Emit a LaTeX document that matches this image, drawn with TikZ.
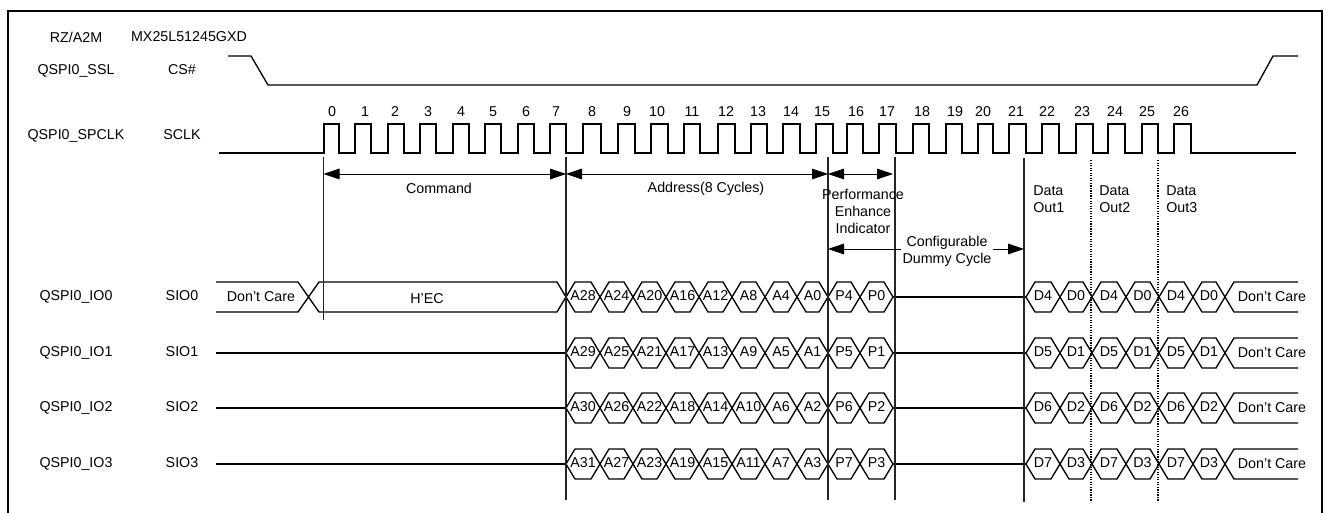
\documentclass[tikz,border=0pt]{standalone}
\usepackage{fontspec}
\setmainfont{Liberation Sans}
\usetikzlibrary{arrows.meta}

\newcommand{\hexcell}[5]{%
    \draw[wave] (#2,#4) -- (#2+9,#4-15) -- (#3-9,#4-15) -- (#3,#4) -- (#3-9,#4+15) -- (#2+9,#4+15) -- cycle;
    \node[lbl] (#1) at ({(#2+#3)/2},#4-1) {#5};
}

\begin{document}
\begin{tikzpicture}[x=0.75pt,y=-0.75pt,
    lbl/.style={font=\fontsize{10.7}{12.8}\selectfont,inner sep=0pt,align=center,text depth=0pt},
    txt/.style={font=\fontsize{10.7}{12.8}\selectfont,inner sep=0pt,align=left,anchor=west},
    wave/.style={line width=1pt,line join=miter},
    tick/.style={line width=0.8pt,black!85},
    dots/.style={line width=0.9pt,densely dotted},
    span/.style={line width=0.6pt,{Triangle[length=12pt,width=8pt]}-{Triangle[length=12pt,width=8pt]}},
    lead/.style={line width=0.6pt,-{Triangle[length=12pt,width=8pt]}}]
    \useasboundingbox (0,0) rectangle (1328,513);

    \draw[line width=1.5pt] (7.5,513) -- (7.5,11.5) -- (1322,11.5) -- (1322,513);

    \node[lbl] (hostname) at (76,37) {RZ/A2M};
    \node[lbl] (flashname) at (189,37) {MX25L51245GXD};
    \node[lbl] (ssl) at (76,70) {QSPI0\_SSL};
    \node[lbl] (cs) at (182,70) {CS\#};
    \node[lbl] (spclk) at (76,135) {QSPI0\_SPCLK};
    \node[lbl] (sclk) at (182,135) {SCLK};

    \draw[wave] (228,56) -- (251,56) -- (268,85) -- (1257,85) -- (1273,56) -- (1298,56);

    \draw[wave] (219,153) foreach \r/\f in {324/339,355/371,388/404,420/436,453/469,485/501,518/534,550/566,583/601,618/635,651/668,684/700,718/735,751/767,783/800,816/833,847/863,879/896,913/929,946/962,978/993,1009/1026,1042/1059,1076/1093,1108/1125,1142/1158,1174/1191} {
        -- (\r,153) -- (\r,124) -- (\f,124) -- (\f,153)
    } -- (1296,153);

    \foreach \n/\x in {0/332,1/365,2/395,3/428,4/461,5/493,6/526,7/556,8/592,9/627,10/657,11/692,12/726,13/758,14/791,15/822,16/856,17/887,18/922,19/955,20/983,21/1016,22/1047,23/1082,24/1115,25/1147,26/1181} {
        \node[lbl] (num\n) at (\x,112) {\n};
    }

    \foreach \r/\y in {0/297,1/353,2/408,3/464} {
        \node[lbl] (qspi\r) at (76,\y-1) {QSPI0\_IO\r};
        \node[lbl] (sio\r) at (182,\y-1) {SIO\r};
        \foreach \n/\a/\b/\v in {0/566/600/28,1/600/633/24,2/633/666/20,3/666/699/16,4/699/732/12,5/732/765/8,6/765/797/4,7/797/828/0} {
            \pgfmathtruncatemacro\bitno{\v+\r}
            \hexcell{addr\r\n}{\a}{\b}{\y}{A\bitno}
        }
        \foreach \n/\a/\b/\v in {0/828/860/4,1/860/893/0} {
            \pgfmathtruncatemacro\bitno{\v+\r}
            \hexcell{perf\r\n}{\a}{\b}{\y}{P\bitno}
        }
        \foreach \n/\a/\b/\v in {0/1026/1060/4,1/1060/1092/0,2/1092/1126/4,3/1126/1159/0,4/1159/1193/4,5/1193/1225/0} {
            \pgfmathtruncatemacro\bitno{\v+\r}
            \hexcell{data\r\n}{\a}{\b}{\y}{D\bitno}
        }
        \draw[wave] (893,\y) -- (1026,\y);
        \draw[wave] (1298,\y-15) -- (1234,\y-15) -- (1225,\y) -- (1234,\y+15) -- (1298,\y+15);
        \node[lbl] (care\r) at (1272,\y) {Don't Care};
    }

    \foreach \y in {353,408,464} {
        \draw[wave] (216,\y) -- (566,\y);
    }

    \draw[wave] (216,282) -- (298,282) -- (319,312) -- (557,312) -- (566,297) -- (557,282) -- (319,282) -- (298,312) -- (216,312);
    \node[lbl] (carehead) at (261,297) {Don't Care};
    \node[lbl] (opcode) at (427,299) {H'EC};

    \coordinate (t0) at (323.5,174);
    \coordinate (t8) at (566,174);
    \coordinate (t16) at (828,174);
    \coordinate (t18) at (893,174);
    \coordinate (dummyl) at (828,249);
    \coordinate (dummyr) at (1024,249);
    \coordinate (dummya) at (901,249);
    \coordinate (dummyb) at (993,249);

    \draw[tick] (323.5,157) -- (323.5,320);
    \draw[tick] (566,157) -- (566,500);
    \draw[tick] (828,157) -- (828,500);
    \draw[tick] (895,157) -- (895,500);
    \draw[tick] (1024,158) -- (1024,502);
    \draw[dots] (1091,160) -- (1091,502);
    \draw[dots] (1158,160) -- (1158,502);

    \draw[span] (t0) -- (t8);
    \draw[span] (t8) -- (t16);
    \draw[span] (t16) -- (t18);
    \draw[lead] (dummya) -- (dummyl);
    \draw[lead] (dummyb) -- (dummyr);

    \node[lbl] (command) at (439,188) {Command};
    \node[lbl] (address) at (706,187) {Address(8 Cycles)};
    \node[lbl] (indicator) at (863,211) {Performance\\Enhance\\Indicator};
    \node[lbl] (dummy) at (947,250) {Configurable\\Dummy Cycle};
    \node[txt] (out1) at (1033,199.5) {Data\\Out1};
    \node[txt] (out2) at (1099,199.5) {Data\\Out2};
    \node[txt] (out3) at (1166,199.5) {Data\\Out3};
\end{tikzpicture}
\end{document}
